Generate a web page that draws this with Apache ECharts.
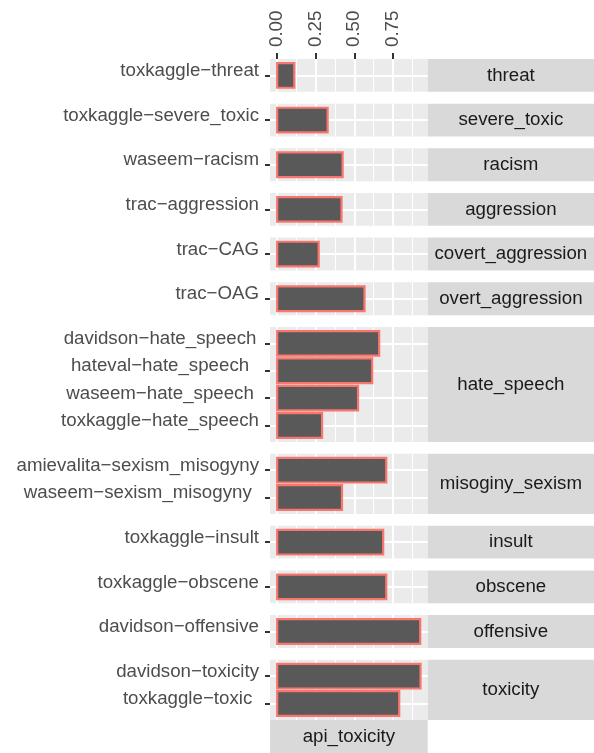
<!DOCTYPE html>
<html><head><meta charset="utf-8">
<script src="https://cdn.jsdelivr.net/npm/echarts@6/dist/echarts.min.js"></script>
<style>html,body{margin:0;padding:0;background:#fff}#c{width:594px;height:753px}</style>
</head><body><div id="c"></div>
<script>
// ---- data ----
const facetNames = ['threat','severe_toxic','racism','aggression','covert_aggression','overt_aggression','hate_speech','misoginy_sexism','insult','obscene','offensive','toxicity'];
const datasetLabels = ['toxkaggle−threat','toxkaggle−severe_toxic','waseem−racism','trac−aggression','trac−CAG','trac−OAG','davidson−hate_speech','hateval−hate_speech','waseem−hate_speech','toxkaggle−hate_speech','amievalita−sexism_misogyny','waseem−sexism_misogyny','toxkaggle−insult','toxkaggle−obscene','davidson−offensive','davidson−toxicity','toxkaggle−toxic'];
const datasetFacet = ['threat','severe_toxic','racism','aggression','covert_aggression','overt_aggression','hate_speech','hate_speech','hate_speech','hate_speech','misoginy_sexism','misoginy_sexism','insult','obscene','offensive','toxicity','toxicity'];
const apiToxicity = [0.111,0.327,0.424,0.417,0.269,0.566,0.661,0.616,0.524,0.291,0.707,0.420,0.687,0.707,0.927,0.929,0.791];
const xTickValues = [0,0.25,0.5,0.75];
const xTickLabels = ['0.00','0.25','0.50','0.75'];
const xMinorValues = [0.125,0.375,0.625,0.875];
const columnStrip = 'api_toxicity';

// ---- layout ----
const PL = 270, PR = 427.7, TOP = 59, U = 27.38, GAP = 11.8, RIGHT = 594;
const FS = 18.7, FONT = 'Liberation Sans';
const X_MIN = -0.0465, X_MAX = 0.9755;

const ctx = document.createElement('canvas').getContext('2d');
ctx.font = FS + 'px "' + FONT + '"';

const grids = [], xAxes = [], yAxes = [], series = [], graphics = [];
let y = TOP;
function renderItem(params, api) {
  const v = api.value(0), i = api.value(1);
  const p0 = api.coord([0, i]), p1 = api.coord([v, i]);
  const bh = api.size([0, 0.9])[1];
  return {type: 'rect', shape: {x: p0[0], y: p0[1] - bh / 2, width: p1[0] - p0[0], height: bh},
    style: {fill: '#595959', stroke: '#F8766D', lineWidth: 2.2}};
}
facetNames.forEach((name, k) => {
  const idx = [];
  datasetFacet.forEach((f, j) => { if (f === name) idx.push(j); });
  const n = idx.length;
  const labels = idx.map(j => datasetLabels[j]);
  const h = (n + 0.2) * U;
  const maxW = Math.max(...labels.map(s => ctx.measureText(s).width));
  grids.push({left: PL, top: y, width: PR - PL, height: h, show: true, backgroundColor: '#EBEBEB', borderWidth: 0, outerBoundsMode: 'none', containLabel: false});
  const local = idx.map((_, i) => i);
  xAxes.push({
    type: 'value', gridIndex: k, min: X_MIN, max: X_MAX, position: 'top',
    axisLine: {show: false, onZero: false},
    axisTick: {show: k === 0, customValues: xTickValues, length: 6, lineStyle: {color: '#333333', width: 2}},
    axisLabel: {show: k === 0, customValues: xTickValues, rotate: -90, margin: 12,
      formatter: v => xTickLabels[xTickValues.findIndex(t => Math.abs(t - v) < 1e-6)],
      fontSize: FS, fontFamily: FONT, color: '#4D4D4D'},
    splitLine: {show: true, lineStyle: {color: '#FFFFFF', width: 2}}
  });
  xAxes.push({
    type: 'value', gridIndex: k, min: X_MIN, max: X_MAX, position: 'bottom',
    axisLine: {show: false, onZero: false},
    axisTick: {show: false, customValues: xMinorValues},
    axisLabel: {show: false, customValues: xMinorValues},
    splitLine: {show: true, lineStyle: {color: '#FFFFFF', width: 1}}
  });
  yAxes.push({
    type: 'value', gridIndex: k, min: -0.6, max: n - 0.4, inverse: true, position: 'left',
    axisLine: {show: false, onZero: false},
    axisTick: {show: true, customValues: local, length: 5, lineStyle: {color: '#333333', width: 2}},
    axisLabel: {show: true, customValues: local, formatter: v => labels[Math.round(v)],
      align: 'center', verticalAlign: 'bottom', lineHeight: 9, margin: 11 + maxW / 2,
      fontSize: FS, fontFamily: FONT, color: '#4D4D4D'},
    splitLine: {show: true, lineStyle: {color: '#FFFFFF', width: 2}}
  });
  series.push({
    type: 'custom', xAxisIndex: 2 * k, yAxisIndex: k, renderItem,
    encode: {x: 0, y: 1},
    data: idx.map((j, i) => [apiToxicity[j], i])
  });
  graphics.push({type: 'rect', shape: {x: PR, y: y, width: RIGHT - PR, height: h}, style: {fill: '#D9D9D9'}, silent: true});
  graphics.push({type: 'text', x: (PR + RIGHT) / 2, y: y + h / 2,
    style: {text: name, fontSize: FS, fontFamily: FONT, fill: '#1A1A1A', align: 'center', verticalAlign: 'middle'}, silent: true});
  y += h + (k < facetNames.length - 1 ? GAP : 0);
});
graphics.push({type: 'rect', shape: {x: PL, y: y, width: PR - PL, height: 753 - y}, style: {fill: '#D9D9D9'}, silent: true});
graphics.push({type: 'text', x: (PL + PR) / 2, y: y + 17,
  style: {text: columnStrip, fontSize: FS, fontFamily: FONT, fill: '#1A1A1A', align: 'center', verticalAlign: 'middle'}, silent: true});

const chart = echarts.init(document.getElementById('c'), null, {renderer: 'canvas'});
chart.setOption({
  animation: false,
  backgroundColor: '#FFFFFF',
  textStyle: {fontFamily: FONT},
  grid: grids, xAxis: xAxes, yAxis: yAxes, series,
  graphic: graphics
});
</script></body></html>
